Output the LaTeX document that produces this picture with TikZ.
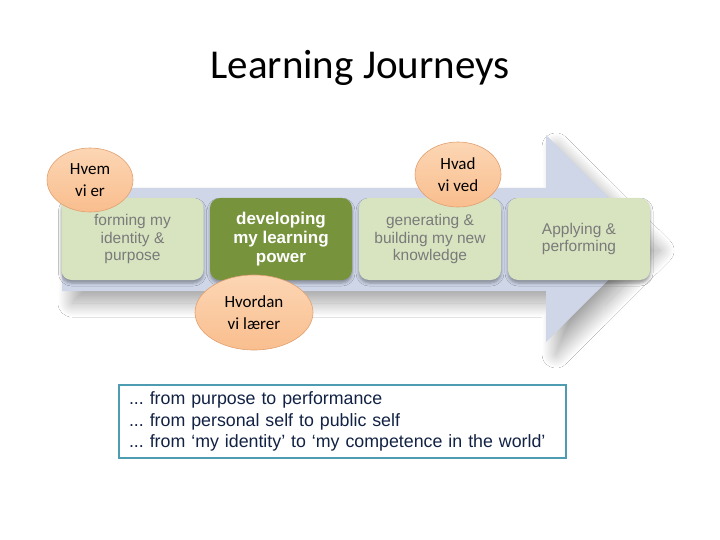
\documentclass[tikz,border=0pt]{standalone}
\usepackage{fontspec}
\setmainfont{Liberation Sans}
\newfontfamily\calibri{Carlito}
\usetikzlibrary{shapes.geometric,shadows.blur}
\frenchspacing
\definecolor{arrowblue}{RGB}{206,214,232}
\definecolor{lightgreen}{RGB}{216,228,192}
\definecolor{darkgreen}{RGB}{119,147,60}
\definecolor{graytext}{RGB}{122,122,122}
\definecolor{peachtop}{RGB}{252,214,180}
\definecolor{peachbot}{RGB}{249,190,142}
\definecolor{peachline}{RGB}{226,160,112}
\definecolor{tealline}{RGB}{78,156,178}
\definecolor{navytext}{RGB}{18,34,68}
\tikzset{
  stagebox/.style={rounded corners=10pt, minimum width=142pt, minimum height=82pt,
    inner sep=0pt, align=center,
    blur shadow={shadow xshift=0pt, shadow yshift=-3pt, shadow blur radius=3pt, shadow opacity=35}},
  lightstage/.style={stagebox, fill=lightgreen, text=graytext, font=\fontsize{15.5}{17.5}\selectfont},
  darkstage/.style={stagebox, fill=darkgreen, text=white, font=\bfseries\fontsize{17}{19}\selectfont},
  bubble/.style={ellipse, draw=peachline, line width=0.6pt, top color=peachtop, bottom color=peachbot,
    inner sep=0pt, align=center, font=\calibri\fontsize{17}{22.5}\selectfont, text=black},
}
\begin{document}
\begin{tikzpicture}[x=1pt,y=-1pt]
\useasboundingbox (0,0) rectangle (720,540);
\fill[white] (0,0) rectangle (720,540);
% title
\node (title) at (360,68) {\calibri\fontsize{41}{48}\selectfont Learning Journeys};
% big arrow
\fill[arrowblue, blur shadow={shadow xshift=10pt, shadow yshift=-12pt, shadow blur radius=14pt, shadow blur steps=40, shadow opacity=35}]
  (62,188) -- (546,188) -- (546,135) -- (650,238.5) -- (546,342) -- (546,291) -- (62,291) -- cycle;
% stages
\node[lightstage] (form) at (132.5,239) {forming my\\identity \&\\purpose};
\node[darkstage] (dev) at (281,239) {developing\\my learning\\power};
\node[lightstage] (gen) at (430,239) {generating \&\\building my new\\knowledge};
\node[lightstage] (app) at (579,239) {Applying \&\\performing};
% bubbles
\node[bubble, minimum width=86pt, minimum height=64pt] (hvem) at (90,180) {Hvem\\vi er};
\node[bubble, minimum width=86pt, minimum height=65pt] (hvad) at (458,174.5) {Hvad\\vi ved};
\node[bubble, minimum width=118pt, minimum height=75pt] (hvordan) at (254,312.5) {Hvordan\\vi lærer};
% text box
\node[draw=tealline, line width=2.5pt, fill=white, minimum width=447pt, minimum height=73pt,
  text width=427pt, align=left, text=navytext, font=\fontsize{17.8}{21.5}\selectfont] (tb) at (342.5,421.5)
  {... from purpose to performance\\... from personal self to public self\\... from ‘my identity’ to ‘my competence in the world’};
\end{tikzpicture}
\end{document}
